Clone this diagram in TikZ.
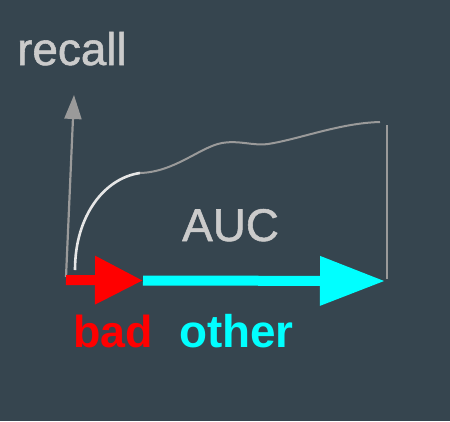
\documentclass[tikz,border=0pt]{standalone}
\usepackage{fontspec}
\setmainfont{Liberation Sans}
\newfontfamily\semibold[FakeBold=1.2]{Liberation Sans}
\usetikzlibrary{arrows.meta}
\definecolor{bg}{HTML}{36454F}
\definecolor{axisgray}{HTML}{9A9A9A}
\definecolor{txtgray}{HTML}{CBCBCB}
\definecolor{curvewhite}{HTML}{E6E6E6}
\definecolor{brightred}{HTML}{FF0000}
\definecolor{brightcyan}{HTML}{00FFFF}
\begin{document}
\begin{tikzpicture}[x=1bp,y=-1bp,
  lbl/.style={inner sep=0pt,anchor=base west},
  axisline/.style={draw=axisgray,line width=2.2bp},
  bigarrow/.style={line width=10bp}]
\fill[bg] (0,0) rectangle (450,421);
\useasboundingbox (0,0) rectangle (450,421);
% coordinates
\coordinate (o) at (66,277);
\coordinate (ytip) at (74,95);
\coordinate (rtop) at (387,125);
\coordinate (rbot) at (387,279);
\coordinate (cs) at (75,270);
\coordinate (cm) at (140,173);
\coordinate (c1) at (222,143);
\coordinate (c2) at (268,144);
\coordinate (ce) at (380,122);
\coordinate (rs) at (66,280);
\coordinate (rm) at (143,280.5);
\coordinate (re) at (385,281);
% y axis
\draw[axisline,-{Triangle[length=24bp,width=17bp]}] (o) -- (ytip);
% right edge
\draw[axisline,line width=2bp] (rtop) -- (rbot);
% curve
\draw[curvewhite,line width=2.6bp] (cs) .. controls (75,215) and (105,178) .. (cm);
\draw[axisgray,line width=2bp] (cm) .. controls (175,172) and (200,147) .. (c1)
  .. controls (240,140) and (252,146) .. (c2)
  .. controls (300,139) and (340,123) .. (ce);
% arrows
\draw[bigarrow,brightcyan,-{Triangle[length=65bp,width=47bp]}] (rm) -- (re);
\draw[bigarrow,brightred,-{Triangle[length=48bp,width=46bp]}] (rs) -- (rm);
% labels
\node[lbl,txtgray,font=\semibold\fontsize{46}{46}\selectfont] (recall) at (17,65) {recall};
\node[lbl,txtgray,font=\semibold\fontsize{46}{46}\selectfont] (auc) at (182,241) {AUC};
\node[lbl,brightred,font=\bfseries\fontsize{45}{45}\selectfont] (bad) at (73,347) {bad};
\node[lbl,brightcyan,font=\bfseries\fontsize{46}{46}\selectfont] (other) at (179,347) {other};
\end{tikzpicture}
\end{document}
